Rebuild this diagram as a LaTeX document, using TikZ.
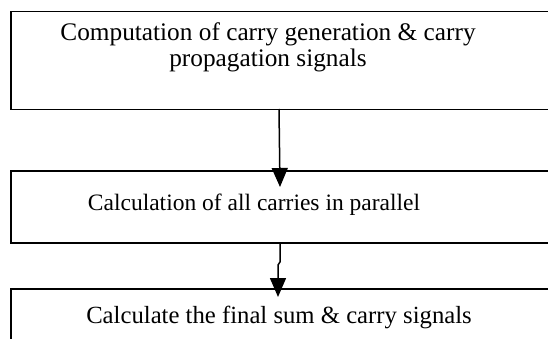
\documentclass[tikz,border=0pt]{standalone}
\usepackage{fontspec}
\setmainfont{Liberation Serif}
\usetikzlibrary{arrows.meta}
\begin{document}
\begin{tikzpicture}[x=1pt,y=-1pt,
  boxshape/.style={draw=black,line width=1.5pt,rectangle,anchor=north west,inner sep=0pt},
  lbl/.style={anchor=base,inner sep=0pt},
  arr/.style={draw=black,line width=1.5pt,-{Triangle[length=19pt,width=16pt]}}]
\useasboundingbox (0,0) rectangle (548,339);
\clip (0,0) rectangle (548,339);
\node[boxshape,minimum width=700pt,minimum height=98pt] (b1) at (10,11) {};
\node[boxshape,minimum width=700pt,minimum height=72pt] (b2) at (10,170) {};
\node[boxshape,minimum width=700pt,minimum height=120pt] (b3) at (10,288) {};
\node[lbl,font=\fontsize{25.3}{27}\selectfont] (t1a) at (268,41) {Computation of carry generation \& carry};
\node[lbl,font=\fontsize{25.3}{27}\selectfont] (t1b) at (268,67) {propagation signals};
\node[lbl,font=\fontsize{23.5}{27}\selectfont] (t2) at (254,210) {Calculation of all carries in parallel};
\node[lbl,font=\fontsize{24.7}{27}\selectfont] (t3) at (279,323) {Calculate the final sum \& carry signals};
\coordinate (a1s) at (279,109);
\coordinate (a1e) at (280,187);
\draw[arr] (a1s) -- (a1e);
\coordinate (a2s) at (280,242);
\coordinate (a2m1) at (280,262);
\coordinate (a2m2) at (278,265);
\coordinate (a2e) at (278,297);
\draw[arr] (a2s) -- (a2m1) -- (a2m2) -- (a2e);
\end{tikzpicture}
\end{document}
